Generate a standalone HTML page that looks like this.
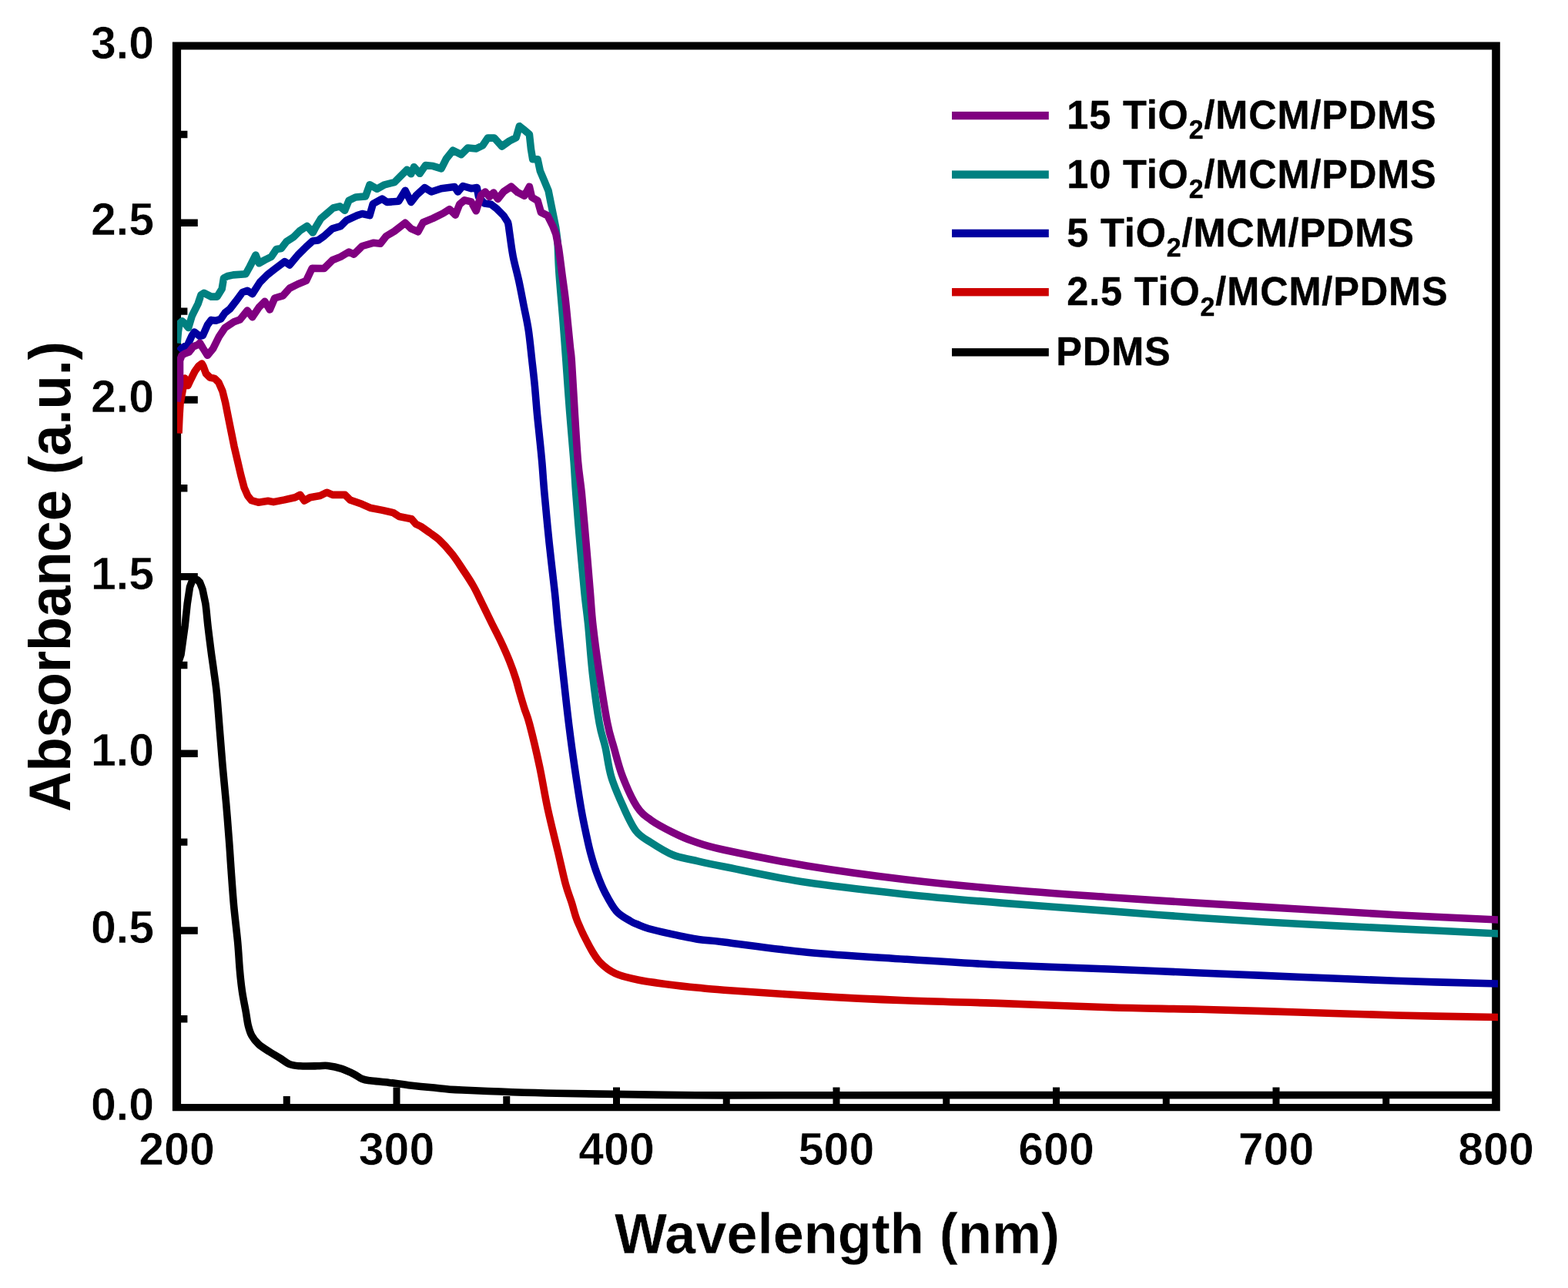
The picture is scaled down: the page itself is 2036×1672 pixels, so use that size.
<!DOCTYPE html><html><head><meta charset="utf-8"><title>Absorbance spectra</title>
<style>html,body{margin:0;padding:0;background:#fff;overflow:hidden;}svg{display:block;}text{font-family:"Liberation Sans",Arial,sans-serif;font-weight:bold;fill:#000;stroke-linejoin:round;}.tl{stroke:#fff;stroke-width:0.60px;}.xt{stroke:#fff;stroke-width:0.40px;}.yt{stroke:#000;stroke-width:0.00px;}.lg{stroke:#000;stroke-width:0.40px;}</style></head><body>
<svg width="2036" height="1672" viewBox="0 0 2036 1672">
<rect x="0" y="0" width="2036" height="1672" fill="#fff"/>
<path fill="#000" d="M223.90 1318.07h19.50v9.40h-19.50zM223.90 1203.23h32.90v9.40h-32.90zM223.90 1088.40h19.50v9.40h-19.50zM223.90 973.57h32.90v9.40h-32.90zM223.90 858.73h19.50v9.40h-19.50zM223.90 743.90h32.90v9.40h-32.90zM223.90 629.07h19.50v9.40h-19.50zM223.90 514.23h32.90v9.40h-32.90zM223.90 399.40h19.50v9.40h-19.50zM223.90 284.57h32.90v9.40h-32.90zM223.90 169.73h19.50v9.40h-19.50zM367.75 1423.00h9.00v19.30h-9.00zM510.50 1411.40h9.00v30.90h-9.00zM653.25 1423.00h9.00v19.30h-9.00zM796.00 1411.40h9.00v30.90h-9.00zM938.75 1423.00h9.00v19.30h-9.00zM1081.50 1411.40h9.00v30.90h-9.00zM1224.25 1423.00h9.00v19.30h-9.00zM1367.00 1411.40h9.00v30.90h-9.00zM1509.75 1423.00h9.00v19.30h-9.00zM1652.50 1411.40h9.00v30.90h-9.00zM1795.25 1423.00h9.00v19.30h-9.00zM223.90 54.40h11.20v1387.90h-11.20zM1937.20 54.40h10.60v1387.90h-10.60zM223.90 54.40h1723.90v10.00h-1723.90zM223.90 1432.90h1723.90v9.40h-1723.90z"/>
<defs><clipPath id="pc"><rect x="229.9" y="0" width="1715.1" height="1672"/></clipPath></defs>
<g clip-path="url(#pc)" fill="none" stroke-linejoin="round" stroke-linecap="butt" stroke-width="9.60">
<path stroke="#000000" d="M229.5 866.0 L235.0 849.6 L240.0 813.7 L243.2 783.8 L246.5 762.0 L249.5 754.0 L252.5 751.5 L256.0 752.5 L259.5 756.0 L263.0 765.0 L266.9 783.8 C268.1 791.9 268.9 803.5 270.1 813.7 C271.3 823.9 272.8 835.6 274.0 845.0 C275.2 854.4 276.3 860.8 277.5 870.0 C278.7 879.2 280.1 887.0 281.4 900.0 C282.7 913.0 284.0 931.9 285.3 947.9 C286.6 963.9 287.8 979.8 289.2 995.7 C290.6 1011.7 292.3 1027.6 293.7 1043.6 C295.1 1059.6 296.4 1077.5 297.5 1091.5 C298.6 1105.5 299.0 1113.9 300.0 1127.9 C301.0 1141.9 302.2 1159.8 303.6 1175.7 C305.1 1191.7 307.4 1209.5 308.7 1223.6 C310.0 1237.6 310.4 1249.5 311.4 1260.0 C312.3 1270.5 313.1 1277.9 314.4 1286.9 C315.7 1295.9 318.0 1306.3 319.3 1313.8 C320.6 1321.3 321.1 1326.7 322.4 1331.8 C323.7 1336.9 324.6 1340.4 326.9 1344.4 C329.1 1348.4 332.1 1352.2 335.9 1355.6 C339.6 1359.0 344.9 1362.1 349.4 1365.0 C353.9 1367.9 358.3 1370.3 362.8 1373.1 C367.3 1375.9 371.8 1379.8 376.3 1381.6 C380.8 1383.4 383.7 1383.4 389.7 1383.8 C395.7 1384.2 406.2 1383.9 412.2 1383.8 C418.2 1383.7 420.4 1382.8 425.6 1383.4 C430.8 1384.0 437.9 1385.5 443.6 1387.4 C449.3 1389.3 455.6 1392.4 460.0 1394.6 C464.4 1396.8 466.6 1399.1 470.0 1400.5 C473.4 1401.9 474.5 1402.0 480.4 1402.8 C486.3 1403.6 497.1 1404.4 505.5 1405.4 C513.9 1406.4 520.8 1407.6 530.5 1408.7 C540.2 1409.8 552.4 1411.0 564.0 1412.0 C575.6 1413.0 573.5 1413.8 600.0 1415.0 C626.5 1416.2 672.2 1418.2 722.8 1419.3 C773.4 1420.4 840.6 1421.3 903.5 1421.7 C966.4 1422.1 926.2 1421.7 1100.0 1421.7 C1273.8 1421.7 1805.0 1421.5 1946.0 1421.5"/>
<path stroke="#CC0000" d="M232.0 562.5 L233.0 540.0 L234.0 524.0 L237.5 505.0 L240.0 491.0 L244.0 500.5 L248.0 492.0 L253.0 482.0 L258.0 475.0 L262.0 472.0 L263.8 475.0 L267.5 485.0 L272.6 490.0 L278.8 491.4 L283.9 496.4 L288.9 507.7 L292.7 522.8 L296.4 541.7 L300.2 560.5 L304.0 579.3 L308.4 598.2 L312.8 617.0 L317.2 633.4 L321.6 643.4 L326.6 649.7 L335.4 652.2 L348.0 650.3 L355.1 651.6 L369.2 648.9 L383.2 645.7 L389.7 642.4 L395.1 650.0 L402.7 645.7 L415.6 643.5 L424.3 639.2 L431.8 642.4 L448.0 642.4 L454.5 648.9 L469.7 654.3 L480.5 659.2 L496.7 662.4 L510.7 665.6 L518.3 670.5 L534.5 673.8 L539.9 680.2 L546.7 683.5 L558.0 691.5 C561.9 694.4 565.1 696.0 570.0 700.6 C574.9 705.2 581.9 712.8 587.1 719.3 C592.3 725.8 596.5 732.6 601.1 739.5 C605.7 746.4 610.3 753.1 614.5 760.5 C618.7 767.9 622.4 776.1 626.3 784.0 C630.2 791.9 634.0 799.8 638.0 808.0 C642.0 816.2 646.6 824.7 650.5 833.0 C654.4 841.3 658.3 850.0 661.5 858.0 C664.7 866.0 667.5 874.0 669.7 881.0 C672.0 888.0 673.1 893.5 675.0 900.0 C676.9 906.5 678.9 913.3 681.0 920.0 C683.1 926.7 684.3 927.5 687.6 940.0 C690.9 952.5 696.7 976.7 700.6 995.0 C704.5 1013.3 707.2 1031.7 711.2 1050.0 C715.2 1068.3 720.4 1088.7 724.3 1105.0 C728.2 1121.3 731.4 1136.7 734.4 1147.8 C737.4 1158.9 739.7 1163.8 742.3 1171.8 C744.9 1179.8 745.9 1186.5 749.8 1196.0 C753.7 1205.5 760.6 1219.9 765.5 1228.8 C770.4 1237.7 773.7 1243.6 779.3 1249.4 C784.9 1255.2 790.7 1259.8 798.9 1263.6 C807.1 1267.4 816.9 1269.6 828.4 1272.0 C839.9 1274.4 854.6 1276.2 867.7 1277.9 C880.8 1279.6 895.0 1281.1 907.0 1282.3 C919.0 1283.5 916.5 1283.5 940.0 1285.2 C963.5 1286.9 1008.5 1290.1 1047.7 1292.4 C1086.9 1294.7 1132.9 1297.1 1175.4 1298.8 C1218.0 1300.5 1258.9 1301.1 1303.0 1302.6 C1347.1 1304.1 1397.5 1306.5 1440.0 1307.8 C1482.5 1309.1 1516.8 1309.3 1557.7 1310.3 C1598.6 1311.3 1642.9 1312.7 1685.4 1314.0 C1728.0 1315.3 1769.6 1316.9 1813.0 1318.0 C1856.4 1319.1 1923.8 1320.1 1946.0 1320.5"/>
<path stroke="#0000A0" d="M232.5 456.0 L236.0 452.0 L243.9 447.3 L249.3 435.6 L252.4 431.0 L259.4 436.4 L263.3 435.6 L269.5 421.6 L274.2 415.4 L280.4 416.2 L286.7 414.0 L292.1 406.1 L298.6 401.0 L306.1 391.3 L314.8 379.5 L321.2 377.3 L327.7 381.6 L337.4 366.5 L347.0 356.9 L356.7 349.3 L369.6 339.6 L376.1 343.9 L386.9 331.0 L397.6 320.3 L406.2 312.7 L413.0 312.0 L420.8 306.5 L431.5 296.9 L442.3 293.6 L449.8 286.1 L463.8 279.6 L470.3 277.5 L480.0 279.6 L484.3 264.6 L496.1 258.1 L502.6 262.4 L517.6 261.3 L526.2 247.4 L533.8 262.4 L540.8 253.3 L551.5 243.6 L560.1 249.0 L573.0 244.7 L590.3 242.6 L594.6 249.0 L601.0 241.5 L611.8 244.7 L619.3 243.6 L621.5 255.5 L629.0 264.1 L637.6 265.2 L645.4 271.3 L654.0 280.0 L659.4 288.5 C660.6 292.1 660.4 294.1 661.5 301.4 C662.6 308.7 664.1 321.8 666.1 332.3 C668.1 342.8 671.4 353.8 673.7 364.6 C676.0 375.4 678.0 386.1 680.1 396.9 C682.2 407.6 684.5 416.9 686.3 429.1 C688.1 441.3 689.6 457.8 691.0 470.0 C692.4 482.2 693.5 491.5 694.5 502.3 C695.5 513.1 696.2 523.8 697.2 534.6 C698.2 545.4 699.4 556.1 700.5 566.9 C701.6 577.7 702.6 587.0 703.7 599.2 C704.8 611.4 705.3 622.4 706.9 640.0 C708.5 657.6 710.9 683.1 713.1 704.6 C715.4 726.1 718.5 751.5 720.4 769.2 C722.3 786.9 722.5 793.4 724.3 811.0 C726.1 828.6 728.8 853.1 731.2 874.6 C733.6 896.1 736.1 919.9 738.6 940.0 C741.1 960.1 743.3 976.7 746.0 995.0 C748.7 1013.3 752.0 1035.0 754.6 1050.0 C757.2 1065.0 759.5 1075.2 761.6 1084.9 C763.7 1094.6 764.8 1099.9 767.0 1108.0 C769.2 1116.1 771.9 1125.2 775.0 1133.6 C778.1 1142.0 781.2 1150.3 785.5 1158.5 C789.8 1166.7 795.0 1176.8 800.5 1183.0 C806.0 1189.2 814.0 1192.8 818.6 1195.7 C823.2 1198.6 824.5 1198.7 828.4 1200.3 C832.3 1201.9 835.7 1203.6 842.2 1205.5 C848.8 1207.4 856.9 1209.3 867.7 1211.6 C878.5 1213.9 895.0 1217.5 907.0 1219.4 C919.0 1221.3 916.5 1220.1 940.0 1222.9 C963.5 1225.7 1008.5 1232.5 1047.7 1236.2 C1086.9 1239.9 1132.9 1242.4 1175.4 1245.2 C1218.0 1248.0 1258.9 1250.7 1303.0 1252.8 C1347.1 1254.9 1397.5 1256.3 1440.0 1258.0 C1482.5 1259.7 1516.8 1261.3 1557.7 1263.0 C1598.6 1264.7 1642.9 1266.5 1685.4 1268.2 C1728.0 1269.9 1769.6 1271.8 1813.0 1273.3 C1856.4 1274.8 1923.8 1276.4 1946.0 1277.0"/>
<path stroke="#008080" d="M230.0 445.5 L231.5 430.0 L233.0 420.0 L236.5 417.0 L240.0 420.0 L244.7 425.5 L249.3 410.0 L257.1 394.4 L261.0 382.8 L264.9 380.4 L274.2 385.1 L282.0 385.1 L288.2 375.0 L290.5 361.0 L295.4 358.5 L303.0 356.9 L319.0 355.8 L324.4 346.0 L332.0 331.0 L336.3 341.8 L343.8 337.5 L352.4 333.2 L358.9 323.5 L365.3 322.4 L371.8 313.8 L381.5 307.4 L389.0 299.8 L398.7 293.4 L406.2 302.0 L410.0 294.7 L416.5 283.9 L424.0 277.5 L432.6 270.0 L441.2 267.8 L447.7 273.2 L453.0 260.3 L461.7 256.0 L474.6 254.9 L480.0 239.8 L489.6 245.2 L499.3 239.8 L512.2 236.6 L521.9 226.9 L528.4 220.4 L533.8 225.8 L537.5 216.7 L545.1 225.3 L552.6 214.6 L562.3 215.6 L573.0 218.9 L579.5 206.0 L588.1 195.2 L598.9 200.6 L607.5 192.0 L618.2 193.0 L626.9 188.7 L633.3 179.1 L641.9 179.1 L651.7 190.0 L661.5 183.0 L670.1 178.7 L674.4 163.7 L679.8 168.0 L687.4 174.4 L689.5 193.8 L691.7 206.7 L698.1 206.7 L701.3 221.8 L706.7 234.7 L712.1 247.6 L715.3 263.8 L718.6 279.9 L721.8 296.0 L723.9 312.2 C724.6 321.8 724.7 336.1 725.9 353.8 C727.1 371.5 729.7 399.0 731.2 418.4 C732.7 437.8 733.6 450.6 735.0 470.0 C736.4 489.4 738.0 513.1 739.7 534.6 C741.4 556.1 743.8 581.6 745.1 599.2 C746.4 616.8 746.4 622.4 747.7 640.0 C749.0 657.6 751.1 683.1 753.0 704.6 C754.9 726.1 757.1 751.3 758.9 769.2 C760.7 787.1 762.0 794.4 763.8 812.0 C765.5 829.6 767.0 853.4 769.4 874.6 C771.8 895.8 775.5 923.3 778.3 939.2 C781.1 955.1 783.4 958.5 786.0 970.0 C788.6 981.5 789.9 995.5 793.7 1008.3 C797.5 1021.1 803.7 1034.9 809.0 1046.6 C814.3 1058.3 819.7 1070.8 825.7 1078.6 C831.7 1086.4 836.9 1088.3 844.9 1093.5 C852.9 1098.7 864.4 1106.0 873.6 1109.8 C882.8 1113.6 888.9 1114.0 900.0 1116.5 C911.1 1119.0 915.4 1120.2 940.0 1125.0 C964.6 1129.8 1008.5 1139.6 1047.7 1145.6 C1086.9 1151.6 1132.9 1156.4 1175.4 1160.9 C1218.0 1165.4 1258.9 1168.8 1303.0 1172.4 C1347.1 1176.0 1397.5 1179.4 1440.0 1182.6 C1482.5 1185.8 1516.8 1188.7 1557.7 1191.5 C1598.6 1194.3 1642.9 1196.9 1685.4 1199.2 C1728.0 1201.5 1769.6 1203.5 1813.0 1205.6 C1856.4 1207.7 1923.8 1210.9 1946.0 1212.0"/>
<path stroke="#800080" d="M230.0 521.5 L231.5 510.0 L233.5 500.0 L233.5 468.0 L236.0 461.5 L240.0 459.0 L245.4 457.0 L251.0 450.0 L257.1 447.3 L259.5 445.2 L263.5 452.0 L269.5 461.3 L276.5 452.8 L284.3 437.2 L292.1 425.5 L303.8 417.8 L311.5 415.0 L321.2 403.1 L327.7 411.7 L336.3 398.8 L343.8 391.3 L350.3 402.0 L356.7 387.0 L367.5 383.8 L376.1 374.1 L386.9 368.7 L397.6 364.4 L405.2 348.2 L420.8 348.5 L431.5 337.8 L442.3 333.4 L453.0 327.0 L459.5 330.2 L470.3 319.5 L485.3 315.2 L493.9 316.2 L501.5 306.5 L512.2 300.1 L526.2 289.3 L533.8 296.9 L542.9 300.7 L549.4 288.8 L562.3 283.4 L575.2 277.0 L583.8 271.6 L591.3 279.1 L596.7 265.2 L603.2 259.8 L611.8 261.9 L618.2 273.8 L624.7 253.3 L630.1 249.0 L635.5 255.5 L640.8 250.0 L646.5 258.4 L654.0 248.7 L663.7 242.2 L672.3 249.8 L680.9 254.1 L687.4 242.2 L690.6 256.2 L698.1 260.5 L702.4 275.6 L711.0 279.9 L717.5 292.8 L721.8 303.6 L725.3 321.5 C726.6 329.9 728.2 343.0 729.6 353.8 C731.0 364.6 732.6 375.3 733.9 386.1 C735.2 396.9 736.1 407.6 737.2 418.4 C738.3 429.2 739.5 442.1 740.4 450.7 C741.3 459.3 741.4 456.0 742.4 470.0 C743.4 484.0 744.9 513.1 746.2 534.6 C747.6 556.1 749.0 581.6 750.5 599.2 C752.0 616.8 753.5 622.4 755.3 640.0 C757.0 657.6 759.1 683.1 761.0 704.6 C762.9 726.1 764.9 751.3 766.4 769.2 C767.9 787.1 768.0 794.4 770.0 812.0 C772.0 829.6 775.2 853.4 778.3 874.6 C781.4 895.8 785.7 923.3 788.8 939.2 C791.9 955.1 793.7 958.5 797.0 970.0 C800.3 981.5 803.5 995.5 808.5 1008.3 C813.5 1021.1 820.6 1037.3 826.7 1046.6 C832.8 1055.9 837.1 1058.6 844.9 1064.3 C852.7 1070.0 864.4 1076.0 873.6 1080.6 C882.8 1085.2 888.9 1088.2 900.0 1092.0 C911.1 1095.8 915.4 1098.0 940.0 1103.3 C964.6 1108.6 1008.5 1117.5 1047.7 1123.9 C1086.9 1130.3 1132.9 1136.6 1175.4 1141.7 C1218.0 1146.8 1258.9 1150.7 1303.0 1154.5 C1347.1 1158.3 1397.5 1161.7 1440.0 1164.7 C1482.5 1167.7 1516.8 1169.9 1557.7 1172.4 C1598.6 1175.0 1642.9 1177.5 1685.4 1180.0 C1728.0 1182.5 1769.6 1185.4 1813.0 1187.7 C1856.4 1190.0 1923.8 1193.0 1946.0 1194.0"/>
</g>
<text class="tl" x="200.0" y="1453.6" font-size="59.0" text-anchor="end">0.0</text>
<text class="tl" x="200.0" y="1223.9" font-size="59.0" text-anchor="end">0.5</text>
<text class="tl" x="200.0" y="994.3" font-size="59.0" text-anchor="end">1.0</text>
<text class="tl" x="200.0" y="764.6" font-size="59.0" text-anchor="end">1.5</text>
<text class="tl" x="200.0" y="534.9" font-size="59.0" text-anchor="end">2.0</text>
<text class="tl" x="200.0" y="305.3" font-size="59.0" text-anchor="end">2.5</text>
<text class="tl" x="200.0" y="75.6" font-size="59.0" text-anchor="end">3.0</text>
<text class="tl" x="229.5" y="1511.5" font-size="59.0" text-anchor="middle">200</text>
<text class="tl" x="515.0" y="1511.5" font-size="59.0" text-anchor="middle">300</text>
<text class="tl" x="800.5" y="1511.5" font-size="59.0" text-anchor="middle">400</text>
<text class="tl" x="1086.0" y="1511.5" font-size="59.0" text-anchor="middle">500</text>
<text class="tl" x="1371.5" y="1511.5" font-size="59.0" text-anchor="middle">600</text>
<text class="tl" x="1657.0" y="1511.5" font-size="59.0" text-anchor="middle">700</text>
<text class="tl" x="1942.5" y="1511.5" font-size="59.0" text-anchor="middle">800</text>
<text class="xt" transform="translate(1087.0 1626.5) scale(1 1.030)" font-size="72.1" text-anchor="middle">Wavelength (nm)</text>
<text class="yt" transform="translate(90.5 748.5) rotate(-90) scale(1 1.060)" font-size="72.3" text-anchor="middle">Absorbance (a.u.)</text>
<rect x="1236.0" y="144.90" width="125.8" height="10.40" fill="#800080"/>
<text class="lg" transform="translate(1385.2 167.10) scale(1 1.025)" font-size="50.5" letter-spacing="0.85">15 TiO<tspan font-size="34.0" dy="13.0">2</tspan><tspan dy="-13.0">/MCM/PDMS</tspan></text>
<rect x="1236.0" y="221.40" width="125.8" height="10.40" fill="#008080"/>
<text class="lg" transform="translate(1385.2 243.60) scale(1 1.025)" font-size="50.5" letter-spacing="0.85">10 TiO<tspan font-size="34.0" dy="13.0">2</tspan><tspan dy="-13.0">/MCM/PDMS</tspan></text>
<rect x="1236.0" y="297.70" width="125.8" height="10.40" fill="#0000A0"/>
<text class="lg" transform="translate(1385.2 319.90) scale(1 1.025)" font-size="50.5" letter-spacing="0.85">5 TiO<tspan font-size="34.0" dy="13.0">2</tspan><tspan dy="-13.0">/MCM/PDMS</tspan></text>
<rect x="1236.0" y="374.00" width="125.8" height="10.40" fill="#CC0000"/>
<text class="lg" transform="translate(1385.2 396.20) scale(1 1.025)" font-size="50.5" letter-spacing="0.85">2.5 TiO<tspan font-size="34.0" dy="13.0">2</tspan><tspan dy="-13.0">/MCM/PDMS</tspan></text>
<rect x="1236.0" y="452.10" width="125.8" height="10.40" fill="#000"/>
<text class="lg" transform="translate(1371.3 474.30) scale(1 1.025)" font-size="50.5" letter-spacing="0.85">PDMS</text>
</svg></body></html>
